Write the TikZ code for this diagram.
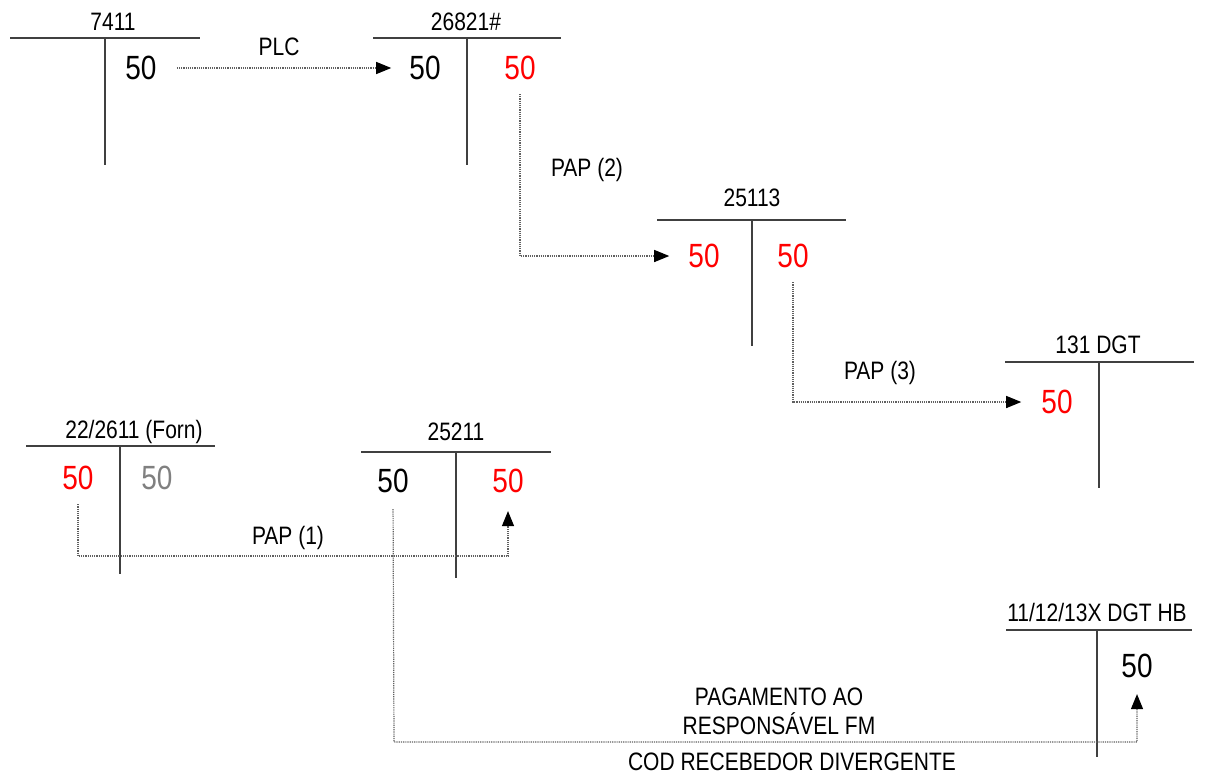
\documentclass[tikz,border=0pt]{standalone}
\usepackage{fontspec}
\usepackage{graphicx}
\setmainfont{Liberation Sans}
\usetikzlibrary{arrows.meta}
\definecolor{tline}{HTML}{404040}
\definecolor{dotc}{HTML}{606060}
\definecolor{numred}{HTML}{FF0000}
\definecolor{numgray}{HTML}{808080}
\newcommand{\vst}[1]{\scalebox{1}[1.2]{#1}}
\begin{document}
\begin{tikzpicture}[x=1pt,y=-1pt,
  tline/.style={draw=tline,line width=1.3pt},
  title/.style={inner sep=0pt,font=\fontsize{21}{24}\selectfont},
  lbl/.style={inner sep=0pt,font=\fontsize{21}{24}\selectfont,align=center},
  num/.style={inner sep=0pt,font=\fontsize{28}{32}\selectfont},
  flow/.style={draw=dotc,line width=1.2pt,densely dotted,-{Triangle[length=15pt,width=12pt,color=black]}},
]
\useasboundingbox (0,0) rectangle (1222,774);
% T 7411
\node[title] (t1) at (113,22) {\vst{7411}};
\draw[tline] (10,38) -- (200,38) (105,38) -- (105,165);
\node[num] (n1) at (141,68) {\vst{50}};
% T 26821#
\node[title] (t2) at (466,22) {\vst{26821\#}};
\draw[tline] (373,38) -- (561,38) (467,38) -- (467,165);
\node[num] (n2a) at (425,68) {\vst{50}};
\node[num,text=numred] (n2b) at (520,68) {\vst{50}};
% T 25113
\node[title] (t3) at (752,198) {\vst{25113}};
\draw[tline] (657,220) -- (846,220) (752,220) -- (752,346);
\node[num,text=numred] (n3a) at (704,256) {\vst{50}};
\node[num,text=numred] (n3b) at (793,256) {\vst{50}};
% T 131 DGT
\node[title] (t4) at (1098,345) {\vst{131 DGT}};
\draw[tline] (1005,362) -- (1194,362) (1099,362) -- (1099,488);
\node[num,text=numred] (n4) at (1057,402) {\vst{50}};
% T 22/2611 (Forn)
\node[title] (t5) at (134,432) {\vst{22/2611 (Forn)}};
\draw[tline] (26,446) -- (215,446) (120,446) -- (120,574);
\node[num,text=numred] (n5a) at (78,478) {\vst{50}};
\node[num,text=numgray] (n5b) at (157,478) {\vst{50}};
% T 25211
\node[title] (t6) at (456,432) {\vst{25211}};
\draw[tline] (361,452) -- (551,452) (456,452) -- (456,578);
\node[num] (n6a) at (393,481) {\vst{50}};
\node[num,text=numred] (n6b) at (508,481) {\vst{50}};
% T 11/12/13X DGT HB
\node[title] (t7) at (1097,612) {\vst{11/12/13X DGT HB}};
\draw[tline] (1006,630) -- (1192,630) (1097,630) -- (1097,757);
\node[num] (n7) at (1137,666) {\vst{50}};
% labels
\node[lbl] (lplc) at (279,47) {\vst{PLC}};
\node[lbl] (lpap2) at (587,170) {\vst{PAP (2)}};
\node[lbl] (lpap3) at (880,373) {\vst{PAP (3)}};
\node[lbl] (lpap1) at (288,538) {\vst{PAP (1)}};
\node[lbl] (lpag1) at (779,697) {\vst{PAGAMENTO AO}};
\node[lbl] (lpag2) at (779,724) {\vst{RESPONSÁVEL FM}};
\node[lbl] (lcod) at (792,762) {\vst{COD RECEBEDOR DIVERGENTE}};
% flows
\draw[flow,shorten <=20pt,shorten >=18pt] (n1.east) -- (n2a.west);
\draw[flow,shorten <=14pt,shorten >=19pt] (n2b.south) |- (n3a.west);
\draw[flow,shorten <=14pt,shorten >=20pt] (n3b.south) |- (n4.west);
\coordinate (c1) at (78,556);
\draw[flow,shorten <=14pt,shorten >=18pt] (n5a.south) -- (c1) -| (n6b.south);
\coordinate (c2) at (394,742);
\draw[flow,shorten <=16pt,shorten >=16pt] (n6a.south) -- (c2) -| (n7.south);
\end{tikzpicture}
\end{document}
